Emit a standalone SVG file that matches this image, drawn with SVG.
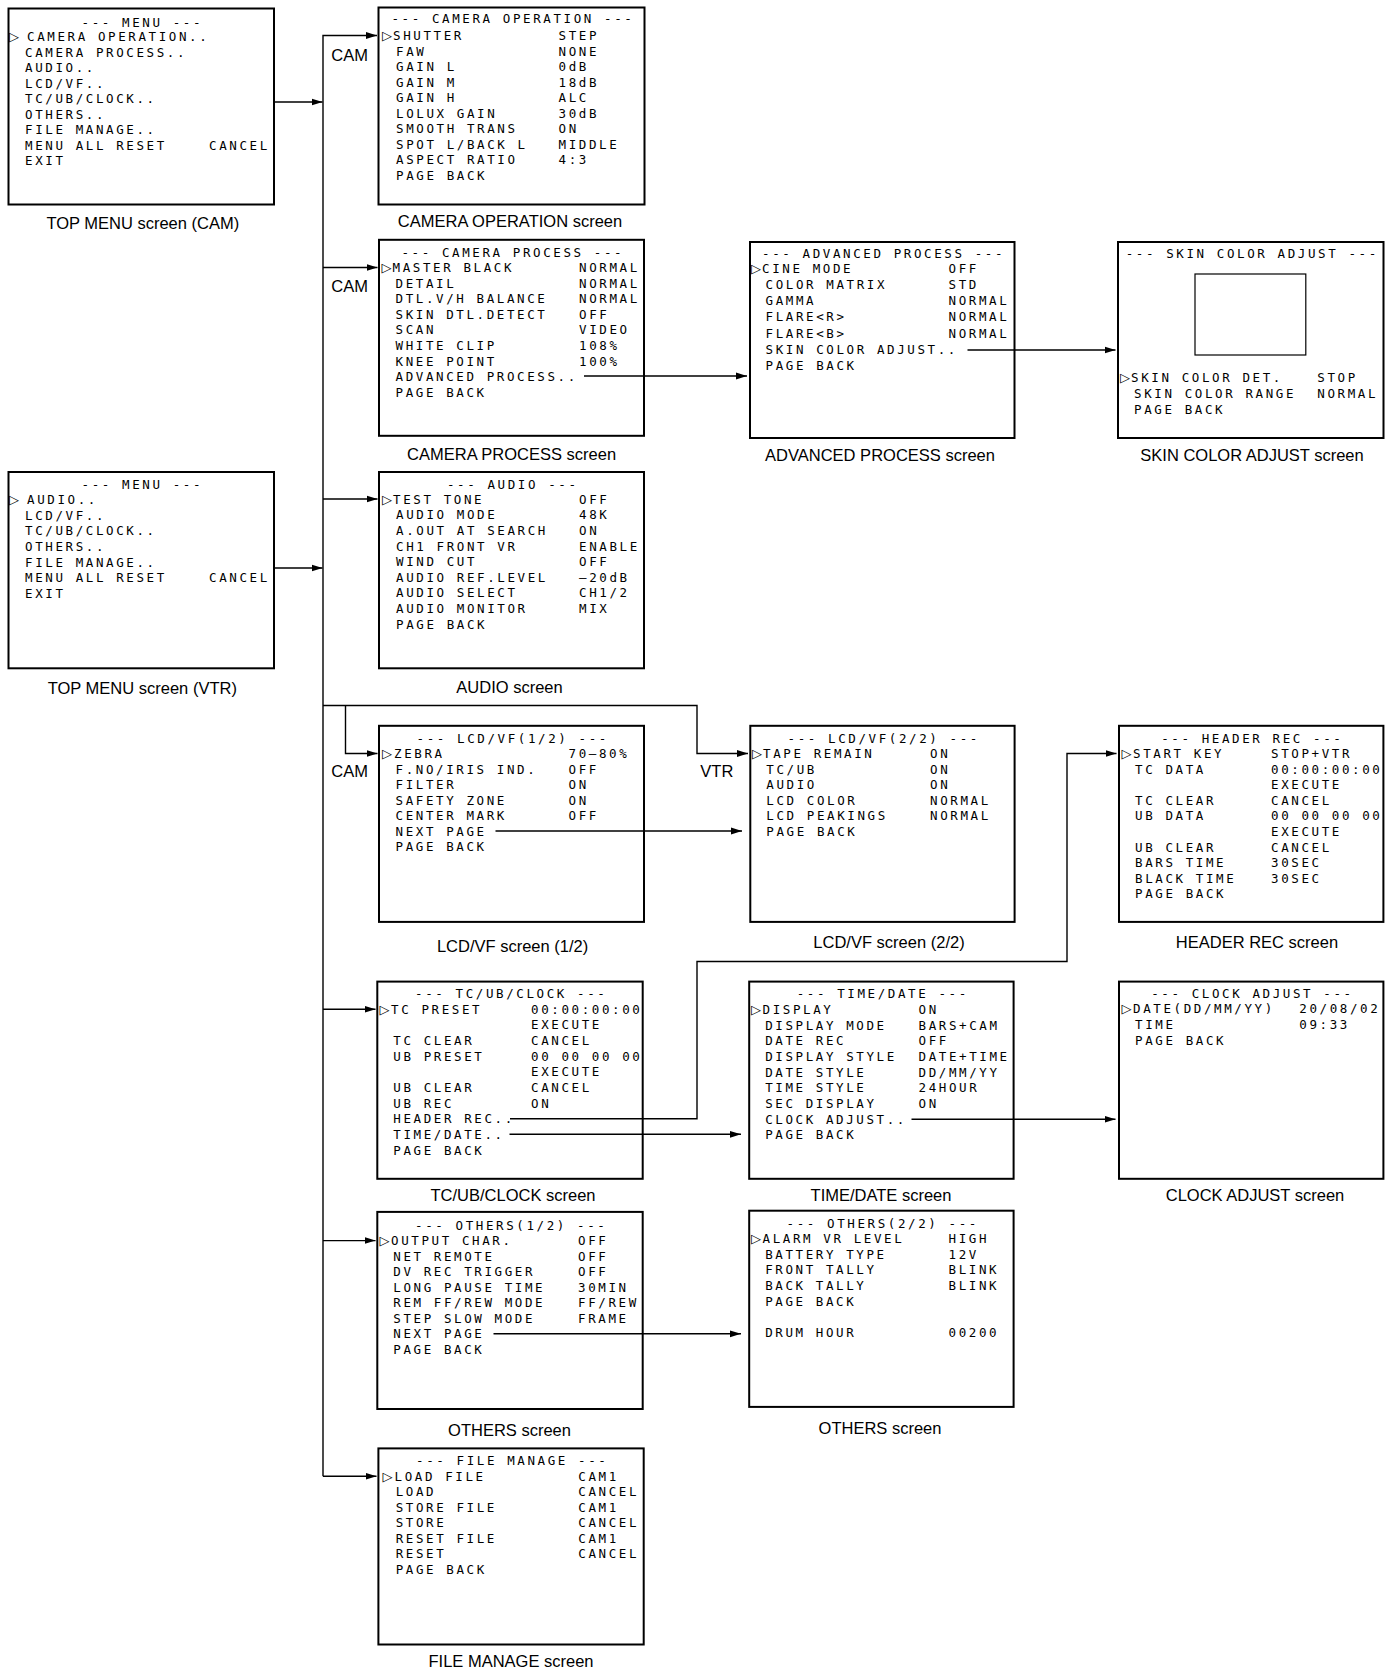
<svg xmlns="http://www.w3.org/2000/svg" width="1393" height="1671" viewBox="0 0 1393 1671">
<defs>
<marker id="ah" markerUnits="userSpaceOnUse" markerWidth="11" markerHeight="8" refX="11" refY="4" orient="auto">
<path d="M0,0.6 L11,4 L0,7.4 z" fill="#000"/>
</marker>
<style>
.box{fill:none;stroke:#000;stroke-width:2}
.inner{fill:none;stroke:#000;stroke-width:1.2}
.m{font-family:"DejaVu Sans Mono","Liberation Mono",monospace;font-size:12.5px;letter-spacing:2.6px;fill:#000}
.c{text-anchor:middle}
.tri{font-family:"DejaVu Sans",sans-serif;font-size:13px;fill:#000}
.lbl{font-family:"Liberation Sans",Arial,sans-serif;font-size:16.5px;text-anchor:middle;fill:#000}
.con{fill:none;stroke:#000;stroke-width:1.4}
.arr{marker-end:url(#ah)}
</style>
</defs>
<rect x="0" y="0" width="1393" height="1671" fill="#fff"/>

<g id="connectors">
<path class="con arr" d="M274,102 H322.5"/>
<path class="con arr" d="M274,568 H322.5"/>
<path class="con arr" d="M323,1476.3 V35.5 H377"/>
<path class="con arr" d="M323,1476.3 H376.5"/>
<path class="con arr" d="M323,267.5 H377.5"/>
<path class="con arr" d="M323,499 H377.5"/>
<path class="con arr" d="M323,705.5 H697 V753.5 H748"/>
<path class="con arr" d="M345.5,705.5 V753.5 H377.5"/>
<path class="con arr" d="M323,1009.3 H375.5"/>
<path class="con arr" d="M323,1240.6 H375.5"/>
<path class="con arr" d="M584,376 H747"/>
<path class="con arr" d="M967.5,350 H1115.5"/>
<path class="con arr" d="M495.5,831 H742"/>
<path class="con arr" d="M510,1118.7 H697 V961.5 H1067 V753.5 H1116.5"/>
<path class="con arr" d="M509.5,1134.3 H741"/>
<path class="con arr" d="M911.5,1119.2 H1115.5"/>
<path class="con arr" d="M493.5,1333.8 H741"/>
<text class="lbl" x="349.6" y="61">CAM</text>
<text class="lbl" x="349.6" y="292.3">CAM</text>
<text class="lbl" x="349.6" y="777">CAM</text>
<text class="lbl" x="716.8" y="777">VTR</text>
</g>

<g id="top-menu-cam">
<rect class="box" x="8.5" y="8.5" width="265.5" height="196"/>
<text class="m c" x="142.3" y="26.5">--- MENU ---</text>
<text class="tri" x="9" y="41.2">▷</text>
<text class="m" x="27" y="41.2">CAMERA OPERATION..</text>
<text class="m" x="25" y="56.7">CAMERA PROCESS..</text>
<text class="m" x="25" y="72.2">AUDIO..</text>
<text class="m" x="25" y="87.7">LCD/VF..</text>
<text class="m" x="25" y="103.2">TC/UB/CLOCK..</text>
<text class="m" x="25" y="118.7">OTHERS..</text>
<text class="m" x="25" y="134.2">FILE MANAGE..</text>
<text class="m" x="25" y="149.7">MENU ALL RESET</text>
<text class="m" x="209" y="149.7">CANCEL</text>
<text class="m" x="25" y="165.2">EXIT</text>
<text class="lbl" x="142.8" y="229">TOP MENU screen (CAM)</text>
</g>

<g id="camera-operation">
<rect class="box" x="378.5" y="7.5" width="266" height="197"/>
<text class="m c" x="513" y="23">--- CAMERA OPERATION ---</text>
<text class="tri" x="382" y="40">▷</text>
<text class="m" x="393" y="40">SHUTTER</text><text class="m" x="558.5" y="40">STEP</text>
<text class="m" x="396" y="55.5">FAW</text><text class="m" x="558.5" y="55.5">NONE</text>
<text class="m" x="396" y="71.1">GAIN L</text><text class="m" x="558.5" y="71.1">0dB</text>
<text class="m" x="396" y="86.6">GAIN M</text><text class="m" x="558.5" y="86.6">18dB</text>
<text class="m" x="396" y="102.2">GAIN H</text><text class="m" x="558.5" y="102.2">ALC</text>
<text class="m" x="396" y="117.7">LOLUX GAIN</text><text class="m" x="558.5" y="117.7">30dB</text>
<text class="m" x="396" y="133.3">SMOOTH TRANS</text><text class="m" x="558.5" y="133.3">ON</text>
<text class="m" x="396" y="148.8">SPOT L/BACK L</text><text class="m" x="558.5" y="148.8">MIDDLE</text>
<text class="m" x="396" y="164.4">ASPECT RATIO</text><text class="m" x="558.5" y="164.4">4:3</text>
<text class="m" x="396" y="179.9">PAGE BACK</text>
<text class="lbl" x="510" y="227">CAMERA OPERATION screen</text>
</g>

<g id="camera-process">
<rect class="box" x="379" y="239.8" width="265" height="196"/>
<text class="m c" x="512.8" y="256.8">--- CAMERA PROCESS ---</text>
<text class="tri" x="381.5" y="272">▷</text>
<text class="m" x="392.5" y="272">MASTER BLACK</text><text class="m" x="579" y="272">NORMAL</text>
<text class="m" x="395.5" y="287.6">DETAIL</text><text class="m" x="579" y="287.6">NORMAL</text>
<text class="m" x="395.5" y="303.2">DTL.V/H BALANCE</text><text class="m" x="579" y="303.2">NORMAL</text>
<text class="m" x="395.5" y="318.8">SKIN DTL.DETECT</text><text class="m" x="579" y="318.8">OFF</text>
<text class="m" x="395.5" y="334.4">SCAN</text><text class="m" x="579" y="334.4">VIDEO</text>
<text class="m" x="395.5" y="350">WHITE CLIP</text><text class="m" x="579" y="350">108%</text>
<text class="m" x="395.5" y="365.6">KNEE POINT</text><text class="m" x="579" y="365.6">100%</text>
<text class="m" x="395.5" y="381.2">ADVANCED PROCESS..</text>
<text class="m" x="395.5" y="396.8">PAGE BACK</text>
<text class="lbl" x="511.6" y="459.5">CAMERA PROCESS screen</text>
</g>

<g id="advanced-process">
<rect class="box" x="750" y="242" width="264.5" height="196"/>
<text class="m c" x="883.6" y="258.2">--- ADVANCED PROCESS ---</text>
<text class="tri" x="751" y="273.1">▷</text>
<text class="m" x="762" y="273.1">CINE MODE</text><text class="m" x="948.5" y="273.1">OFF</text>
<text class="m" x="765.5" y="289.2">COLOR MATRIX</text><text class="m" x="948.5" y="289.2">STD</text>
<text class="m" x="765.5" y="305.3">GAMMA</text><text class="m" x="948.5" y="305.3">NORMAL</text>
<text class="m" x="765.5" y="321.4">FLARE&lt;R&gt;</text><text class="m" x="948.5" y="321.4">NORMAL</text>
<text class="m" x="765.5" y="337.5">FLARE&lt;B&gt;</text><text class="m" x="948.5" y="337.5">NORMAL</text>
<text class="m" x="765.5" y="353.6">SKIN COLOR ADJUST..</text>
<text class="m" x="765.5" y="369.7">PAGE BACK</text>
<text class="lbl" x="880" y="460.5">ADVANCED PROCESS screen</text>
</g>

<g id="skin-color-adjust">
<rect class="box" x="1118" y="242" width="265.5" height="196"/>
<text class="m c" x="1252.3" y="258.2">--- SKIN COLOR ADJUST ---</text>
<rect class="inner" x="1195" y="274" width="110.8" height="81"/>
<text class="tri" x="1120" y="381.8">▷</text>
<text class="m" x="1131" y="381.8">SKIN COLOR DET.</text><text class="m" x="1317.3" y="381.8">STOP</text>
<text class="m" x="1134" y="397.8">SKIN COLOR RANGE</text><text class="m" x="1317.3" y="397.8">NORMAL</text>
<text class="m" x="1134" y="413.8">PAGE BACK</text>
<text class="lbl" x="1252" y="460.5">SKIN COLOR ADJUST screen</text>
</g>

<g id="top-menu-vtr">
<rect class="box" x="8.5" y="472" width="265.5" height="196.3"/>
<text class="m c" x="142.3" y="489">--- MENU ---</text>
<text class="tri" x="9" y="504.1">▷</text>
<text class="m" x="27" y="504.1">AUDIO..</text>
<text class="m" x="25" y="519.7">LCD/VF..</text>
<text class="m" x="25" y="535.3">TC/UB/CLOCK..</text>
<text class="m" x="25" y="550.9">OTHERS..</text>
<text class="m" x="25" y="566.5">FILE MANAGE..</text>
<text class="m" x="25" y="582.1">MENU ALL RESET</text>
<text class="m" x="209" y="582.1">CANCEL</text>
<text class="m" x="25" y="597.7">EXIT</text>
<text class="lbl" x="142.3" y="694">TOP MENU screen (VTR)</text>
</g>

<g id="audio">
<rect class="box" x="379" y="472" width="265" height="196.3"/>
<text class="m c" x="512.8" y="488.8">--- AUDIO ---</text>
<text class="tri" x="382" y="503.7">▷</text>
<text class="m" x="393" y="503.7">TEST TONE</text><text class="m" x="579" y="503.7">OFF</text>
<text class="m" x="396" y="519.3">AUDIO MODE</text><text class="m" x="579" y="519.3">48K</text>
<text class="m" x="396" y="534.9">A.OUT AT SEARCH</text><text class="m" x="579" y="534.9">ON</text>
<text class="m" x="396" y="550.5">CH1 FRONT VR</text><text class="m" x="579" y="550.5">ENABLE</text>
<text class="m" x="396" y="566.1">WIND CUT</text><text class="m" x="579" y="566.1">OFF</text>
<text class="m" x="396" y="581.7">AUDIO REF.LEVEL</text><text class="m" x="579" y="581.7">–20dB</text>
<text class="m" x="396" y="597.3">AUDIO SELECT</text><text class="m" x="579" y="597.3">CH1/2</text>
<text class="m" x="396" y="612.9">AUDIO MONITOR</text><text class="m" x="579" y="612.9">MIX</text>
<text class="m" x="396" y="628.5">PAGE BACK</text>
<text class="lbl" x="509.5" y="693">AUDIO screen</text>
</g>

<g id="lcdvf-1">
<rect class="box" x="379" y="725.8" width="265" height="196.1"/>
<text class="m c" x="512.8" y="742.5">--- LCD/VF(1/2) ---</text>
<text class="tri" x="382" y="758">▷</text>
<text class="m" x="394" y="758">ZEBRA</text><text class="m" x="568.5" y="758">70–80%</text>
<text class="m" x="395.5" y="773.5">F.NO/IRIS IND.</text><text class="m" x="568.5" y="773.5">OFF</text>
<text class="m" x="395.5" y="789">FILTER</text><text class="m" x="568.5" y="789">ON</text>
<text class="m" x="395.5" y="804.5">SAFETY ZONE</text><text class="m" x="568.5" y="804.5">ON</text>
<text class="m" x="395.5" y="820">CENTER MARK</text><text class="m" x="568.5" y="820">OFF</text>
<text class="m" x="395.5" y="835.5">NEXT PAGE</text>
<text class="m" x="395.5" y="851">PAGE BACK</text>
<text class="lbl" x="512.6" y="952">LCD/VF screen (1/2)</text>
</g>

<g id="lcdvf-2">
<rect class="box" x="750.3" y="725.8" width="264.3" height="196.1"/>
<text class="m c" x="883.8" y="742.5">--- LCD/VF(2/2) ---</text>
<text class="tri" x="752" y="758">▷</text>
<text class="m" x="763" y="758">TAPE REMAIN</text><text class="m" x="930" y="758">ON</text>
<text class="m" x="766.3" y="773.5">TC/UB</text><text class="m" x="930" y="773.5">ON</text>
<text class="m" x="766.3" y="789.1">AUDIO</text><text class="m" x="930" y="789.1">ON</text>
<text class="m" x="766.3" y="804.6">LCD COLOR</text><text class="m" x="930" y="804.6">NORMAL</text>
<text class="m" x="766.3" y="820.2">LCD PEAKINGS</text><text class="m" x="930" y="820.2">NORMAL</text>
<text class="m" x="766.3" y="835.7">PAGE BACK</text>
<text class="lbl" x="889" y="947.5">LCD/VF screen (2/2)</text>
</g>

<g id="header-rec">
<rect class="box" x="1119" y="725.8" width="264.4" height="196.1"/>
<text class="m c" x="1252.3" y="743">--- HEADER REC ---</text>
<text class="tri" x="1121.5" y="758">▷</text>
<text class="m" x="1133" y="758">START KEY</text><text class="m" x="1271" y="758">STOP+VTR</text>
<text class="m" x="1135" y="773.6">TC DATA</text><text class="m" x="1271" y="773.6">00:00:00:00</text>
<text class="m" x="1271" y="789.2">EXECUTE</text>
<text class="m" x="1135" y="804.8">TC CLEAR</text><text class="m" x="1271" y="804.8">CANCEL</text>
<text class="m" x="1135" y="820.4">UB DATA</text><text class="m" x="1271" y="820.4">00 00 00 00</text>
<text class="m" x="1271" y="836">EXECUTE</text>
<text class="m" x="1135" y="851.6">UB CLEAR</text><text class="m" x="1271" y="851.6">CANCEL</text>
<text class="m" x="1135" y="867.2">BARS TIME</text><text class="m" x="1271" y="867.2">30SEC</text>
<text class="m" x="1135" y="882.8">BLACK TIME</text><text class="m" x="1271" y="882.8">30SEC</text>
<text class="m" x="1135" y="898.4">PAGE BACK</text>
<text class="lbl" x="1257" y="947.5">HEADER REC screen</text>
</g>

<g id="tc-ub-clock">
<rect class="box" x="377.3" y="981.6" width="265.4" height="197.2"/>
<text class="m c" x="511.3" y="998">--- TC/UB/CLOCK ---</text>
<text class="tri" x="379.5" y="1013.8">▷</text>
<text class="m" x="391" y="1013.8">TC PRESET</text><text class="m" x="531" y="1013.8">00:00:00:00</text>
<text class="m" x="531" y="1029.4">EXECUTE</text>
<text class="m" x="393.3" y="1045.1">TC CLEAR</text><text class="m" x="531" y="1045.1">CANCEL</text>
<text class="m" x="393.3" y="1060.7">UB PRESET</text><text class="m" x="531" y="1060.7">00 00 00 00</text>
<text class="m" x="531" y="1076.3">EXECUTE</text>
<text class="m" x="393.3" y="1092">UB CLEAR</text><text class="m" x="531" y="1092">CANCEL</text>
<text class="m" x="393.3" y="1107.6">UB REC</text><text class="m" x="531" y="1107.6">ON</text>
<text class="m" x="393.3" y="1123.2">HEADER REC..</text>
<text class="m" x="393.3" y="1138.8">TIME/DATE..</text>
<text class="m" x="393.3" y="1154.5">PAGE BACK</text>
<text class="lbl" x="513" y="1201.3">TC/UB/CLOCK screen</text>
</g>

<g id="time-date">
<rect class="box" x="749.2" y="981.6" width="264.4" height="197.2"/>
<text class="m c" x="882.7" y="998">--- TIME/DATE ---</text>
<text class="tri" x="751" y="1013.8">▷</text>
<text class="m" x="762.5" y="1013.8">DISPLAY</text><text class="m" x="918.5" y="1013.8">ON</text>
<text class="m" x="765.2" y="1029.5">DISPLAY MODE</text><text class="m" x="918.5" y="1029.5">BARS+CAM</text>
<text class="m" x="765.2" y="1045.2">DATE REC</text><text class="m" x="918.5" y="1045.2">OFF</text>
<text class="m" x="765.2" y="1060.9">DISPLAY STYLE</text><text class="m" x="918.5" y="1060.9">DATE+TIME</text>
<text class="m" x="765.2" y="1076.6">DATE STYLE</text><text class="m" x="918.5" y="1076.6">DD/MM/YY</text>
<text class="m" x="765.2" y="1092.3">TIME STYLE</text><text class="m" x="918.5" y="1092.3">24HOUR</text>
<text class="m" x="765.2" y="1108">SEC DISPLAY</text><text class="m" x="918.5" y="1108">ON</text>
<text class="m" x="765.2" y="1123.7">CLOCK ADJUST..</text>
<text class="m" x="765.2" y="1139.4">PAGE BACK</text>
<text class="lbl" x="881" y="1201.3">TIME/DATE screen</text>
</g>

<g id="clock-adjust">
<rect class="box" x="1119" y="981.6" width="264.4" height="197.2"/>
<text class="m c" x="1252.5" y="998">--- CLOCK ADJUST ---</text>
<text class="tri" x="1121.5" y="1013">▷</text>
<text class="m" x="1133" y="1013">DATE(DD/MM/YY)</text><text class="m" x="1299.3" y="1013">20/08/02</text>
<text class="m" x="1135" y="1029">TIME</text><text class="m" x="1299.3" y="1029">09:33</text>
<text class="m" x="1135" y="1045">PAGE BACK</text>
<text class="lbl" x="1255" y="1201.3">CLOCK ADJUST screen</text>
</g>

<g id="others-1">
<rect class="box" x="377.3" y="1211.9" width="265.4" height="197.1"/>
<text class="m c" x="511.3" y="1229.5">--- OTHERS(1/2) ---</text>
<text class="tri" x="379.5" y="1245.1">▷</text>
<text class="m" x="391" y="1245.1">OUTPUT CHAR.</text><text class="m" x="578" y="1245.1">OFF</text>
<text class="m" x="393.3" y="1260.6">NET REMOTE</text><text class="m" x="578" y="1260.6">OFF</text>
<text class="m" x="393.3" y="1276.2">DV REC TRIGGER</text><text class="m" x="578" y="1276.2">OFF</text>
<text class="m" x="393.3" y="1291.7">LONG PAUSE TIME</text><text class="m" x="578" y="1291.7">30MIN</text>
<text class="m" x="393.3" y="1307.2">REM FF/REW MODE</text><text class="m" x="578" y="1307.2">FF/REW</text>
<text class="m" x="393.3" y="1322.8">STEP SLOW MODE</text><text class="m" x="578" y="1322.8">FRAME</text>
<text class="m" x="393.3" y="1338.3">NEXT PAGE</text>
<text class="m" x="393.3" y="1353.8">PAGE BACK</text>
<text class="lbl" x="509.5" y="1435.8">OTHERS screen</text>
</g>

<g id="others-2">
<rect class="box" x="749.2" y="1210.7" width="264.4" height="196.2"/>
<text class="m c" x="882.7" y="1228">--- OTHERS(2/2) ---</text>
<text class="tri" x="751" y="1243">▷</text>
<text class="m" x="762.5" y="1243">ALARM VR LEVEL</text><text class="m" x="948.5" y="1243">HIGH</text>
<text class="m" x="765.2" y="1258.7">BATTERY TYPE</text><text class="m" x="948.5" y="1258.7">12V</text>
<text class="m" x="765.2" y="1274.4">FRONT TALLY</text><text class="m" x="948.5" y="1274.4">BLINK</text>
<text class="m" x="765.2" y="1290.1">BACK TALLY</text><text class="m" x="948.5" y="1290.1">BLINK</text>
<text class="m" x="765.2" y="1305.8">PAGE BACK</text>
<text class="m" x="765.2" y="1337.2">DRUM HOUR</text><text class="m" x="948.5" y="1337.2">00200</text>
<text class="lbl" x="880" y="1433.5">OTHERS screen</text>
</g>

<g id="file-manage">
<rect class="box" x="378.4" y="1448.4" width="265.3" height="196.1"/>
<text class="m c" x="512.3" y="1465">--- FILE MANAGE ---</text>
<text class="tri" x="382.5" y="1480.8">▷</text>
<text class="m" x="394.5" y="1480.8">LOAD FILE</text><text class="m" x="578.3" y="1480.8">CAM1</text>
<text class="m" x="395.7" y="1496.3">LOAD</text><text class="m" x="578.3" y="1496.3">CANCEL</text>
<text class="m" x="395.7" y="1511.8">STORE FILE</text><text class="m" x="578.3" y="1511.8">CAM1</text>
<text class="m" x="395.7" y="1527.3">STORE</text><text class="m" x="578.3" y="1527.3">CANCEL</text>
<text class="m" x="395.7" y="1542.8">RESET FILE</text><text class="m" x="578.3" y="1542.8">CAM1</text>
<text class="m" x="395.7" y="1558.3">RESET</text><text class="m" x="578.3" y="1558.3">CANCEL</text>
<text class="m" x="395.7" y="1573.8">PAGE BACK</text>
<text class="lbl" x="511" y="1667">FILE MANAGE screen</text>
</g>
</svg>
